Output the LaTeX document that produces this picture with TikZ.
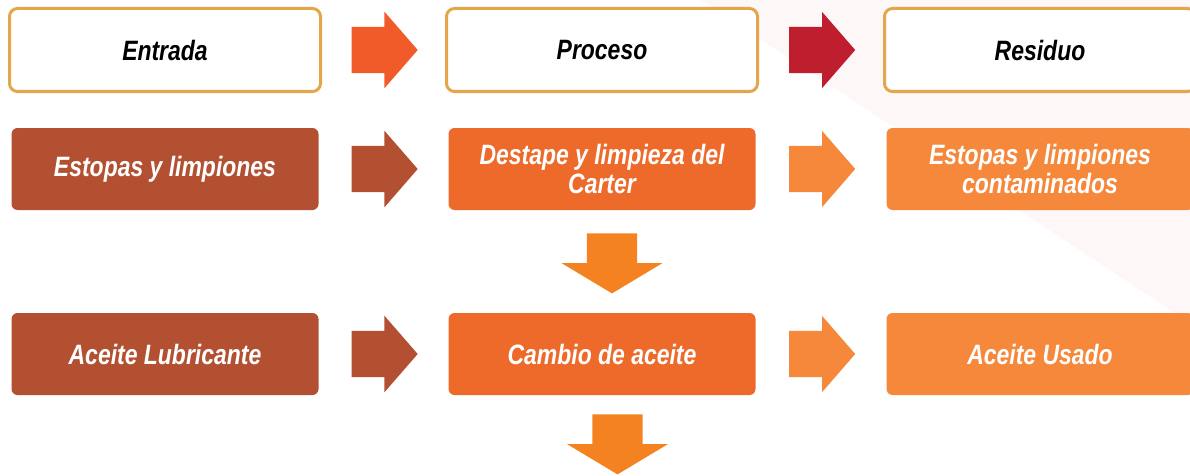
\documentclass[tikz,border=0pt]{standalone}
\usepackage{fontspec}
\newfontfamily\boxfont{Liberation Sans}[FakeStretch=0.82]
\usetikzlibrary{shapes.arrows,calc}

\begin{document}
\begin{tikzpicture}[x=1pt,y=1pt,
    label_font/.style={font=\boxfont\fontsize{28}{29}\selectfont\bfseries\itshape},
    head_box/.style={label_font,draw=tab_gold,line width=3pt,fill=white,rounded corners=8pt,
        minimum width=311pt,minimum height=83pt,inner sep=0pt},
    item_box/.style={label_font,text=white,fill=#1,rounded corners=6pt,
        minimum width=307pt,minimum height=82pt,inner sep=0pt,align=center},
    right_arrow/.style={single arrow,fill=#1,anchor=tail,xshift=-32pt,inner xsep=0pt,inner ysep=23pt,
        minimum height=66pt,single arrow head extend=15pt,single arrow tip angle=98},
    down_arrow/.style={single arrow,fill=tab_orange,anchor=tail,rotate=-90,inner xsep=0pt,inner ysep=25pt,
        minimum height=60pt,single arrow head extend=25pt,single arrow tip angle=118}]
    \definecolor{tab_gold}{HTML}{E3A64A}
    \definecolor{tab_flame}{HTML}{F15A29}
    \definecolor{tab_crimson}{HTML}{BE1E2D}
    \definecolor{tab_rust}{HTML}{B35032}
    \definecolor{tab_carrot}{HTML}{EE6A2B}
    \definecolor{tab_apricot}{HTML}{F5883B}
    \definecolor{tab_orange}{HTML}{F58220}
    \definecolor{tab_pink}{HTML}{FDF7F7}
    \clip (0,0) rectangle (1190,475);
    %\draw[help lines,step=50] (0,0) grid (1190,475);
    \path[fill=tab_pink] (701,475) -- (1190,475) -- (1190,152) -- cycle;

    \node[head_box] (entrada) at (165,425) {Entrada};
    \node[head_box] (proceso) at (602,425) {Proceso};
    \node[head_box] (residuo) at (1040,425) {Residuo};

    \node[item_box=tab_rust] (estopas) at (165,306) {Estopas y limpiones};
    \node[item_box=tab_carrot] (destape) at (602,306) {Destape y limpieza del\\Carter};
    \node[item_box=tab_apricot] (contaminados) at (1040,306) {Estopas y limpiones\\contaminados};

    \node[item_box=tab_rust] (lubricante) at (165,121) {Aceite Lubricante};
    \node[item_box=tab_carrot] (cambio) at (602,121) {Cambio de aceite};
    \node[item_box=tab_apricot] (usado) at (1040,121) {Aceite Usado};

    \node[right_arrow=tab_flame] (a1) at ($(entrada.east)!0.5!(proceso.west)$) {};
    \node[right_arrow=tab_crimson] (a2) at ($(proceso.east)!0.5!(residuo.west)$) {};
    \node[right_arrow=tab_rust] (a3) at ($(estopas.east)!0.5!(destape.west)$) {};
    \node[right_arrow=tab_apricot] (a4) at ($(destape.east)!0.5!(contaminados.west)$) {};
    \node[right_arrow=tab_rust] (a5) at ($(lubricante.east)!0.5!(cambio.west)$) {};
    \node[right_arrow=tab_apricot] (a6) at ($(cambio.east)!0.5!(usado.west)$) {};

    \node[down_arrow] (d1) at ($(destape.south)+(10,-23)$) {};
    \node[down_arrow] (d2) at ($(cambio.south)+(15.5,-19)$) {};
\end{tikzpicture}
\end{document}
